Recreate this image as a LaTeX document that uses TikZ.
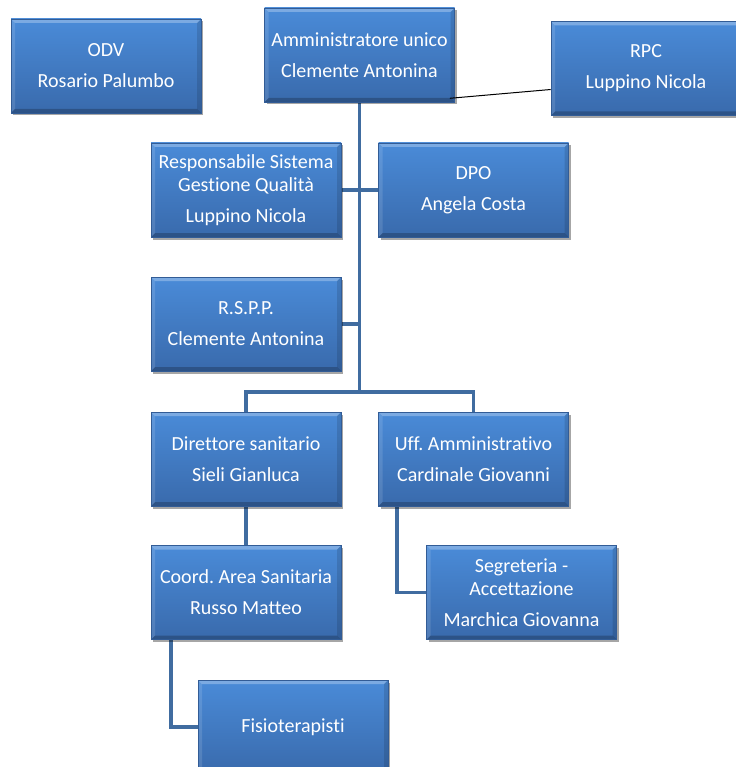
\documentclass[tikz,border=0pt]{standalone}
\usepackage{fontspec}
\setmainfont{Carlito}[Ligatures={NoCommon}]
\usetikzlibrary{shadows,backgrounds,calc}
\definecolor{boxtop}{RGB}{74,139,216}
\definecolor{boxbot}{RGB}{57,106,172}
\definecolor{boxedge}{RGB}{50,92,150}
\definecolor{conncol}{RGB}{64,108,160}
\tikzset{
  orgbox/.style={rectangle, minimum width=190pt, minimum height=94pt, inner sep=0pt,
    align=center, top color=boxtop, bottom color=boxbot, draw=boxedge, line width=0.6pt,
    text=white, font=\fontsize{20}{22.5}\selectfont\frenchspacing,
    drop shadow={shadow xshift=2pt, shadow yshift=-2.5pt, opacity=0.35, fill=black},
    path picture={
      \fill[white,opacity=0.28] (path picture bounding box.north west) -- (path picture bounding box.north east)
        -- ([xshift=-4pt,yshift=-4pt]path picture bounding box.north east) -- ([xshift=4pt,yshift=-4pt]path picture bounding box.north west) -- cycle;
      \fill[black,opacity=0.22] (path picture bounding box.south west) -- (path picture bounding box.south east)
        -- ([xshift=-4pt,yshift=4pt]path picture bounding box.south east) -- ([xshift=4pt,yshift=4pt]path picture bounding box.south west) -- cycle;
      \fill[white,opacity=0.12] (path picture bounding box.north west) -- (path picture bounding box.south west)
        -- ([xshift=4pt,yshift=4pt]path picture bounding box.south west) -- ([xshift=4pt,yshift=-4pt]path picture bounding box.north west) -- cycle;
      \fill[black,opacity=0.12] (path picture bounding box.north east) -- (path picture bounding box.south east)
        -- ([xshift=-4pt,yshift=4pt]path picture bounding box.south east) -- ([xshift=-4pt,yshift=-4pt]path picture bounding box.north east) -- cycle;
    }},
  conn/.style={draw=conncol, line width=3.8pt},
  thinline/.style={draw=black, line width=1pt},
}
\begin{document}
\begin{tikzpicture}[x=1pt,y=-1pt]
\useasboundingbox (0,0) rectangle (735,767);
\node[orgbox] (odv)   at (106,66)    {ODV\\[8.5pt]Rosario Palumbo};
\node[orgbox] (amm)   at (359.5,55)  {Amministratore unico\\[8.5pt]Clemente Antonina};
\node[orgbox] (rpc)   at (646,68.5)  {RPC\\[8.5pt]Luppino Nicola};
\node[orgbox] (rsg)   at (246,190)   {Responsabile Sistema\\Gestione Qualità\\[8.5pt]Luppino Nicola};
\node[orgbox] (dpo)   at (473.5,190) {DPO\\[8.5pt]Angela Costa};
\node[orgbox] (rspp)  at (246,324)   {R.S.P.P.\\[8.5pt]Clemente Antonina};
\node[orgbox] (dir)   at (246,459)   {Direttore sanitario\\[8.5pt]Sieli Gianluca};
\node[orgbox] (uff)   at (473.5,459) {Uff. Amministrativo\\[8.5pt]Cardinale Giovanni};
\node[orgbox] (coord) at (246,592.5) {Coord. Area Sanitaria\\[8.5pt]Russo Matteo};
\node[orgbox] (seg)   at (521.5,592.5) {Segreteria -\\Accettazione\\[8.5pt]Marchica Giovanna};
\node[orgbox] (fisio) at (293,727)   {Fisioterapisti};
\coordinate (bar) at (amm.south |- 0,392);
\begin{scope}[on background layer]
  \fill[white] (0,0) rectangle (735,767);
  \draw[conn] (amm.south) -- (bar);
  \draw[conn] (dir.north) |- (bar) -| (uff.north);
  \draw[conn] (rsg.east) -- (dpo.west);
  \draw[conn] (rspp.east) -- (rspp.east -| amm.south);
  \draw[conn] (dir.south) -- (coord.north);
  \draw[conn] ([xshift=19pt]uff.south west) |- (seg.west);
  \draw[conn] ([xshift=20pt]coord.south west) |- (fisio.west);
\end{scope}
\draw[thinline] ($(amm.south east)+(-5,-4)$) -- ($(rpc.west)+(0,21)$);
\end{tikzpicture}
\end{document}
